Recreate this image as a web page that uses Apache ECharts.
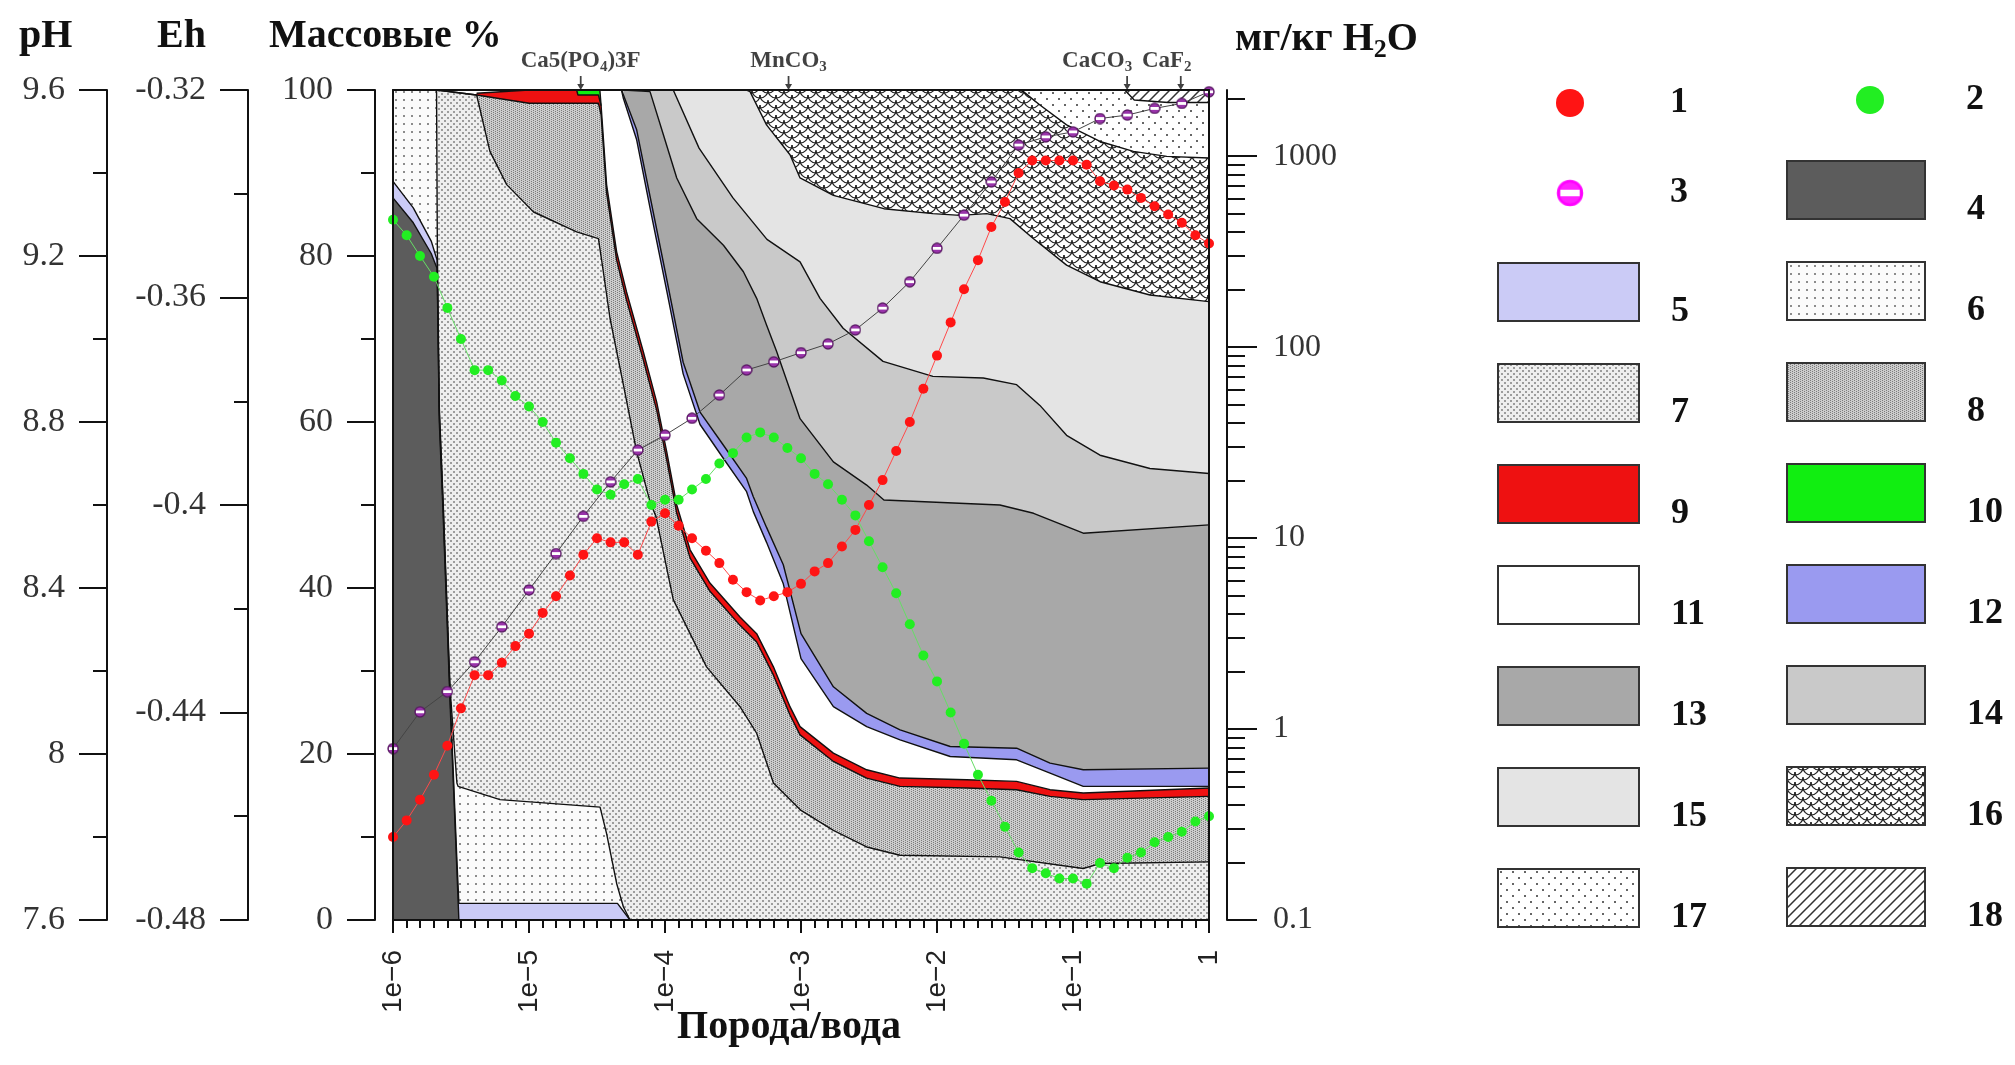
<!DOCTYPE html>
<html>
<head>
<meta charset="utf-8">
<script src="https://cdn.jsdelivr.net/npm/echarts@6/dist/echarts.min.js"></script>
<style>
html, body { margin: 0; padding: 0; background: #fff; }
#chart { width: 2015px; height: 1065px; }
</style>
</head>
<body>
<div id="chart"></div>
<script>
// rock / water ratio grid of the run (0.1 decade steps)
const ratios = [
  1e-6, 1.26e-6, 1.58e-6, 2e-6, 2.51e-6, 3.16e-6, 3.98e-6, 5.01e-6, 6.31e-6, 7.94e-6,
  1e-5, 1.26e-5, 1.58e-5, 2e-5, 2.51e-5, 3.16e-5, 3.98e-5, 5.01e-5, 6.31e-5, 7.94e-5,
  1e-4, 1.26e-4, 1.58e-4, 2e-4, 2.51e-4, 3.16e-4, 3.98e-4, 5.01e-4, 6.31e-4, 7.94e-4,
  1e-3, 1.26e-3, 1.58e-3, 2e-3, 2.51e-3, 3.16e-3, 3.98e-3, 5.01e-3, 6.31e-3, 7.94e-3,
  1e-2, 1.26e-2, 1.58e-2, 2e-2, 2.51e-2, 3.16e-2, 3.98e-2, 5.01e-2, 6.31e-2, 7.94e-2,
  0.1, 0.126, 0.158, 0.2, 0.251, 0.316, 0.398, 0.501, 0.631, 0.794,
  1
];
// 1 - pH
const phValues = [
  7.80, 7.84, 7.89, 7.95, 8.02, 8.11, 8.19, 8.19, 8.22, 8.26,
  8.29, 8.34, 8.38, 8.43, 8.48, 8.52, 8.51, 8.51, 8.48, 8.56,
  8.58, 8.55, 8.52, 8.49, 8.46, 8.42, 8.39, 8.37, 8.38, 8.39,
  8.41, 8.44, 8.46, 8.50, 8.54, 8.60, 8.66, 8.73, 8.80, 8.88,
  8.96, 9.04, 9.12, 9.19, 9.27, 9.33, 9.40, 9.43, 9.43, 9.43,
  9.43, 9.42, 9.38, 9.37, 9.36, 9.34, 9.32, 9.30, 9.28, 9.25,
  9.23
];
// 2 - Eh
const ehValues = [
  -0.345, -0.348, -0.352, -0.356, -0.362, -0.368, -0.374, -0.374, -0.376, -0.379,
  -0.381, -0.384, -0.388, -0.391, -0.394, -0.397, -0.398, -0.396, -0.395, -0.400,
  -0.399, -0.399, -0.397, -0.395, -0.392, -0.390, -0.387, -0.386, -0.387, -0.389,
  -0.391, -0.394, -0.396, -0.399, -0.402, -0.407, -0.412, -0.417, -0.423, -0.429,
  -0.434, -0.440, -0.446, -0.452, -0.457, -0.462, -0.467, -0.470, -0.471, -0.472,
  -0.472, -0.473, -0.469, -0.470, -0.468, -0.467, -0.465, -0.464, -0.463, -0.461,
  -0.460
];
// 3 - dissolved solids, mg/kg H2O (every second step)
const concRatios = [
  1e-6, 1.58e-6, 2.51e-6, 3.98e-6, 6.31e-6, 1e-5, 1.58e-5, 2.51e-5, 3.98e-5, 6.31e-5,
  1e-4, 1.58e-4, 2.51e-4, 3.98e-4, 6.31e-4, 1e-3, 1.58e-3, 2.51e-3, 3.98e-3, 6.31e-3,
  1e-2, 1.58e-2, 2.51e-2, 3.98e-2, 6.31e-2, 0.1, 0.158, 0.251, 0.398, 0.631, 1
];
const concValues = [
  0.79, 1.23, 1.57, 2.25, 3.43, 5.35, 8.3, 13.0, 19.7, 28.9,
  34.6, 42.4, 56.1, 75.9, 83.7, 93.5, 104, 123, 160, 220,
  329, 491, 733, 1143, 1262, 1340, 1574, 1641, 1778, 1888, 2173
];

// cumulative upper edge (mass %) of each solid phase 4..18
const top4 = [[1e-6, 87], [1.41e-6, 84], [1.91e-6, 80.3], [2.11e-6, 78.5], [2.19e-6, 60], [2.33e-6, 49.4], [2.63e-6, 26], [2.95e-6, 6], [3.05e-6, 0]];
const top5 = [[1e-6, 89], [1.41e-6, 85.8], [1.91e-6, 81.8], [2.11e-6, 79.5], [2.19e-6, 61], [2.33e-6, 50.4], [2.63e-6, 27], [2.95e-6, 7.2], [3.05e-6, 2], [4.47e-5, 2], [5.53e-5, 0]];
const top6 = [[1e-6, 100], [2.09e-6, 100], [2.12e-6, 80.5], [2.19e-6, 61.8], [2.33e-6, 51], [2.63e-6, 27.8], [2.95e-6, 16.5], [3.01e-6, 16.1], [6.12e-6, 14.5], [3.33e-5, 13.6], [3.72e-5, 10.4], [4.41e-5, 4.4], [4.94e-5, 1.6], [5.53e-5, 0]];
const top7 = [[2.09e-6, 100], [4.12e-6, 99.4], [5.16e-6, 92.6], [6.85e-6, 88.6], [1.08e-5, 85.3], [2.24e-5, 82.9], [3.24e-5, 82.1], [3.52e-5, 78.1], [3.94e-5, 72.5], [4.94e-5, 64.5], [6.19e-5, 56.4], [7.76e-5, 50.4], [8.59e-5, 48.6], [1.15e-4, 38.6], [2.02e-4, 30.5], [3.56e-4, 25.7], [4.72e-4, 22.5], [6.27e-4, 16.5], [1e-3, 13.2], [1.73e-3, 10.8], [3.04e-3, 8.8], [5.35e-3, 7.8], [2.9e-2, 7.6], [0.119, 6.2], [0.158, 6.8], [1, 7.0]];
const top8 = [[2.09e-6, 100], [4.12e-6, 99.4], [1e-5, 98.4], [3.24e-5, 98.4], [3.39e-5, 97], [3.72e-5, 87.6], [4.41e-5, 79.5], [5.21e-5, 74.7], [6.92e-5, 67.5], [8.69e-5, 61.4], [1.03e-4, 55.4], [1.22e-4, 49], [1.53e-4, 43.6], [2.14e-4, 39.6], [3.56e-4, 35.5], [4.72e-4, 33.5], [6.27e-4, 29.5], [8.3e-4, 24.7], [9.84e-4, 22.3], [1.73e-3, 19.1], [3.04e-3, 17.1], [5.35e-3, 16.1], [1.65e-2, 15.9], [3.85e-2, 15.7], [6.78e-2, 14.9], [0.119, 14.5], [1, 14.9]];
const top9 = [[4.12e-6, 99.6], [1e-5, 100], [2.24e-5, 100], [2.29e-5, 99.4], [3.24e-5, 99.4], [3.39e-5, 98.1], [3.72e-5, 88.6], [4.41e-5, 80.5], [5.21e-5, 75.7], [6.92e-5, 68.5], [8.69e-5, 62.4], [1.03e-4, 56.4], [1.22e-4, 50], [1.53e-4, 44.6], [2.14e-4, 40.6], [3.56e-4, 36.5], [4.72e-4, 34.5], [6.27e-4, 30.5], [8.3e-4, 25.7], [9.84e-4, 23.3], [1.73e-3, 20.1], [3.04e-3, 18.1], [5.35e-3, 17.1], [1.65e-2, 16.9], [3.85e-2, 16.7], [6.78e-2, 15.7], [0.119, 15.3], [1, 15.9]];
const top10 = [[2.24e-5, 100], [3.32e-5, 100], [3.39e-5, 98.1]];
const top11 = [[3.32e-5, 100], [4.79e-5, 100], [4.94e-5, 99], [6.19e-5, 94], [7.76e-5, 85.8], [1.03e-4, 75.8], [1.36e-4, 65.8], [1.81e-4, 59.7], [2.69e-4, 55.6], [3.98e-4, 51.6], [4.46e-4, 49.2], [5.58e-4, 45.5], [7.41e-4, 40.5], [1e-3, 31.5], [1.73e-3, 25.7], [3.04e-3, 23.3], [5.35e-3, 21.7], [1.25e-2, 19.7], [3.85e-2, 19.3], [6.78e-2, 17.7], [0.119, 16.1], [1, 16.1]];
const top12 = [[4.79e-5, 100], [4.94e-5, 100], [6.19e-5, 95.2], [7.76e-5, 87.2], [1.03e-4, 77.2], [1.36e-4, 67.2], [1.81e-4, 61.2], [2.69e-4, 57.2], [3.98e-4, 53.2], [4.46e-4, 51], [5.58e-4, 47.3], [7.41e-4, 42.8], [1e-3, 34.5], [1.73e-3, 28.1], [3.04e-3, 24.9], [5.35e-3, 22.9], [1.25e-2, 20.9], [3.85e-2, 20.7], [6.78e-2, 18.9], [0.119, 18.1], [1, 18.3]];
const top13 = [[4.94e-5, 100], [7.76e-5, 99.8], [9.73e-5, 94.6], [1.22e-4, 89.4], [1.71e-4, 84.5], [2.69e-4, 81.3], [3.77e-4, 78.1], [4.72e-4, 74.9], [5.58e-4, 71.7], [6.62e-4, 68.5], [9.84e-4, 60.4], [1.73e-3, 55.2], [3.04e-3, 52.4], [4.07e-3, 50.6], [2.9e-2, 50], [5.13e-2, 49], [0.119, 46.6], [1, 47.6]];
const top14 = [[7.6e-5, 100], [1.15e-4, 100], [1.78e-4, 93], [3.16e-4, 87], [5.62e-4, 82], [9.84e-4, 79.3], [1.38e-3, 74.9], [2.04e-3, 71.3], [4.01e-3, 67.3], [9.33e-3, 65.5], [2.19e-2, 65.3], [3.85e-2, 64.5], [5.71e-2, 62], [8.97e-2, 58.4], [0.158, 56], [0.368, 54.4], [1, 53.8]];
const top15 = [[1.13e-4, 100], [3.98e-4, 100], [4.22e-4, 99.8], [5.58e-4, 95.8], [8.3e-4, 92.2], [9.84e-4, 89.4], [1.73e-3, 87.3], [4.07e-3, 85.7], [9.33e-3, 85.1], [1.48e-2, 84.9], [2.32e-2, 85.1], [3.44e-2, 84.5], [5.1e-2, 82.1], [8.97e-2, 78.9], [0.158, 76.9], [0.368, 75.3], [1, 74.5]];
const top16 = [[3.95e-4, 100], [3.98e-2, 100], [4.32e-2, 99.8], [5.71e-2, 98.2], [8.97e-2, 95.8], [0.158, 93.8], [0.278, 92.6], [0.489, 92], [1, 91.8]];
const top17 = [[3.95e-2, 100], [0.24, 100], [0.282, 98.8], [0.501, 98.5], [1, 98.5]];
const top18 = [[0.238, 100], [1, 100]];

// minerals marked above the plot
const mineralNames = ['Ca5(PO{s|4})3F', 'MnCO{s|3}', 'CaCO{s|3}', 'CaF{s|2}'];
const mineralRatios = [2.4e-5, 8.1e-4, 0.25, 0.62];

// axis ticks
const concTicks = [0.1, 1, 10, 100, 1000];
const concMinorTicks = [0.2, 0.3, 0.4, 0.5, 0.6, 0.7, 0.8, 0.9, 2, 3, 4, 5, 6, 7, 8, 9,
  20, 30, 40, 50, 60, 70, 80, 90, 200, 300, 400, 500, 600, 700, 800, 900, 2000];
const concMin = 0.1, concMax = 2220;

// ---------- fills ----------
const SERIF = "'Liberation Serif', 'DejaVu Serif', serif";
const SANS = "'Liberation Sans', Arial, sans-serif";

function pattern(w, h, bg, draw) {
  const c = document.createElement('canvas');
  c.width = w; c.height = h;
  const ctx = c.getContext('2d');
  ctx.fillStyle = bg;
  ctx.fillRect(0, 0, w, h);
  draw(ctx);
  return {image: c, repeat: 'repeat'};
}
const sparseDots = pattern(8, 8, '#fbfbfb', ctx => { ctx.fillStyle = '#8c8c8c'; ctx.fillRect(3, 3, 2, 2); });
const denseDots = pattern(6, 6, '#eeeeee', ctx => {
  ctx.fillStyle = '#9c9c9c'; ctx.fillRect(0, 0, 2, 2); ctx.fillRect(3, 3, 2, 2);
});
const darkDots = pattern(4, 4, '#cdcdcd', ctx => {
  ctx.fillStyle = '#7c7c7c'; ctx.fillRect(1, 0, 1, 1); ctx.fillRect(1, 2, 1, 1); ctx.fillRect(3, 1, 1, 1); ctx.fillRect(3, 3, 1, 1);
});
const scales = pattern(16, 10, '#ffffff', ctx => {
  ctx.strokeStyle = '#222'; ctx.lineWidth = 1.2;
  [[0, -5], [16, -5], [8, 0], [0, 5], [16, 5], [8, 10]].forEach(([cx, cy]) => {
    ctx.beginPath(); ctx.arc(cx, cy, 8, 0, Math.PI); ctx.stroke();
  });
});
const crossDots = pattern(12, 12, '#ffffff', ctx => {
  ctx.fillStyle = '#666'; ctx.fillRect(2, 2, 2, 2); ctx.fillRect(8, 8, 2, 2);
});
const hatch = pattern(10, 10, '#ffffff', ctx => {
  ctx.strokeStyle = '#333'; ctx.lineWidth = 1.5;
  ctx.beginPath(); ctx.moveTo(0, 10); ctx.lineTo(10, 0); ctx.moveTo(-2, 2); ctx.lineTo(2, -2); ctx.moveTo(8, 12); ctx.lineTo(12, 8); ctx.stroke();
});
const fills = {
  4: '#5c5c5c', 5: '#cbcbf6', 6: sparseDots, 7: denseDots, 8: darkDots, 9: '#ee1111',
  10: '#11ee11', 11: '#ffffff', 12: '#9a9af0', 13: '#a8a8a8', 14: '#c9c9c9', 15: '#e4e4e4',
  16: scales, 17: crossDots, 18: hatch
};

function ringIcon(fill, edge) {
  const c = document.createElement('canvas');
  c.width = 26; c.height = 26;
  const ctx = c.getContext('2d');
  ctx.beginPath(); ctx.arc(13, 13, 11, 0, Math.PI * 2);
  ctx.fillStyle = fill; ctx.fill();
  ctx.lineWidth = 2.5; ctx.strokeStyle = edge; ctx.stroke();
  ctx.save(); ctx.clip();
  ctx.fillStyle = '#ffffff'; ctx.fillRect(4, 10, 18, 6);
  ctx.restore();
  return 'image://' + c.toDataURL();
}
const concSymbol = ringIcon('#9933aa', '#55185f');
const concLegendIcon = ringIcon('#ff22ff', '#ff00ff');

// ---------- series ----------
const layers = [
  [18, top18], [17, top17], [16, top16], [15, top15], [14, top14], [13, top13], [12, top12],
  [11, top11], [10, top10], [9, top9], [8, top8], [7, top7], [6, top6], [5, top5], [4, top4]
];
const series = layers.map(([n, d]) => ({
  name: String(n), type: 'line', data: d, xAxisIndex: 0, yAxisIndex: 0,
  symbol: 'none', showSymbol: false, silent: true, z: 2,
  itemStyle: {color: '#444'},
  lineStyle: {color: '#111', width: 1.4},
  areaStyle: {color: fills[n], opacity: 1}
}));
series.push({
  name: '3', type: 'line', yAxisIndex: 3, z: 5,
  data: concRatios.map((r, i) => [r, concValues[i]]),
  symbol: concSymbol, symbolSize: 12,
  itemStyle: {color: '#9933aa'}, lineStyle: {color: '#444', width: 1}
});
series.push({
  name: '1', type: 'line', yAxisIndex: 1, z: 6,
  data: ratios.map((r, i) => [r, phValues[i]]),
  symbol: 'circle', symbolSize: 10,
  itemStyle: {color: '#ff1414'}, lineStyle: {color: '#ff4a4a', width: 1}
});
series.push({
  name: '2', type: 'line', yAxisIndex: 2, z: 6,
  data: ratios.map((r, i) => [r, ehValues[i]]),
  symbol: 'circle', symbolSize: 10,
  itemStyle: {color: '#22ee22'}, lineStyle: {color: '#66dd66', width: 1}
});
const mineralShift = [0, 0, -30, -14];
series.push({
  name: 'minerals', type: 'scatter', yAxisIndex: 0, z: 7, silent: true,
  data: mineralRatios.map((r, i) => ({
    value: [r, 100],
    label: {offset: [mineralShift[i], 0]}
  })),
  symbol: 'path://M3,0 L5,0 L5,9 L8,9 L4,16 L0,9 L3,9 Z',
  symbolSize: [7, 14], symbolOffset: [0, -7],
  itemStyle: {color: '#111'},
  label: {
    show: true, position: 'top', distance: 1,
    formatter: p => mineralNames[p.dataIndex],
    fontFamily: SERIF, fontWeight: 'bold', fontSize: 23, color: '#111',
    rich: {s: {fontFamily: SERIF, fontWeight: 'bold', fontSize: 15, padding: [12, 0, 0, 0], color: '#111'}}
  }
});

// ---------- axes ----------
const black = {color: '#111', width: 2};
function leftAxis(min, max, interval, offset) {
  return {
    type: 'value', min, max, interval, position: 'left', offset,
    axisLine: {show: true, onZero: false, lineStyle: black},
    axisTick: {show: true, length: 28, lineStyle: black},
    minorTick: {show: true, splitNumber: 2, length: 14, lineStyle: black},
    axisLabel: {margin: 42, fontFamily: SERIF, fontSize: 34, color: '#333'},
    splitLine: {show: false}, minorSplitLine: {show: false}
  };
}
const hiddenLine = {show: false, onZero: false};
const yAxis = [
  leftAxis(0, 100, 20, 18),
  leftAxis(7.6, 9.6, 0.4, 286),
  leftAxis(-0.48, -0.32, 0.04, 145),
  {type: 'log', logBase: 10, min: concMin, max: concMax, show: false},
  {
    type: 'value', min: Math.log10(concMin), max: Math.log10(concMax), position: 'right', offset: 18,
    axisLine: {show: true, onZero: false, lineStyle: black},
    axisTick: {show: true, length: 30, lineStyle: black, customValues: concTicks.map(Math.log10)},
    axisLabel: {
      show: true, margin: 46, fontFamily: SERIF, fontSize: 32, color: '#333',
      customValues: concTicks.map(Math.log10),
      formatter: v => String(+Math.pow(10, v).toPrecision(2))
    },
    splitLine: {show: false}
  },
  {
    type: 'value', min: Math.log10(concMin), max: Math.log10(concMax), position: 'right', offset: 18,
    axisLine: hiddenLine,
    axisTick: {show: true, length: 18, lineStyle: black, customValues: concMinorTicks.map(Math.log10)},
    axisLabel: {show: false}, splitLine: {show: false}
  },
  {type: 'value', position: 'right', offset: 0, z: 10, axisLine: {show: true, onZero: false, lineStyle: black}, axisTick: {show: false}, axisLabel: {show: false}, splitLine: {show: false}},
  {type: 'value', position: 'left', offset: 0, z: 10, axisLine: {show: true, onZero: false, lineStyle: black}, axisTick: {show: false}, axisLabel: {show: false}, splitLine: {show: false}}
];
const xAxis = [
  {
    type: 'log', logBase: 10, min: 1e-6, max: 1, position: 'bottom', z: 10,
    axisLine: {show: true, onZero: false, lineStyle: black},
    axisTick: {show: true, length: 13, lineStyle: {color: '#111', width: 2}},
    axisLabel: {
      rotate: 90, margin: 30, fontFamily: SANS, fontSize: 28, color: '#222',
      formatter: v => { const e = Math.round(Math.log10(v)); return e === 0 ? '1' : '1e\u2212' + (-e); }
    },
    splitLine: {show: false}
  },
  {
    type: 'value', min: -6, max: 0, interval: 0.1, position: 'bottom',
    axisLine: hiddenLine,
    axisTick: {show: true, length: 8, lineStyle: {color: '#111', width: 2}},
    axisLabel: {show: false}, splitLine: {show: false}
  },
  {type: 'value', min: 0, max: 1, position: 'top', z: 10, axisLine: {show: true, onZero: false, lineStyle: black}, axisTick: {show: false}, axisLabel: {show: false}, splitLine: {show: false}}
];

// ---------- legend ----------
const numStyle = {fontFamily: SERIF, fontWeight: 'bold', fontSize: 36, color: '#111', lineHeight: 40};
const boxStyle = n => ({icon: 'rect', itemStyle: {color: fills[n], borderColor: '#333', borderWidth: 2}});
const legend = [
  {
    data: [{name: '1', icon: 'circle', itemStyle: {color: '#ff1414'}}, {name: '3', icon: concLegendIcon}],
    orient: 'vertical', left: 1556, top: 83, padding: 0, selectedMode: false,
    itemWidth: 28, itemHeight: 28, itemGap: 50,
    textStyle: Object.assign({}, numStyle, {padding: [0, 0, 0, 81]})
  },
  {
    data: [{name: '2', icon: 'circle', itemStyle: {color: '#22ee22'}}],
    orient: 'vertical', left: 1856, top: 80, padding: 0, selectedMode: false,
    itemWidth: 28, itemHeight: 28,
    textStyle: Object.assign({}, numStyle, {padding: [0, 0, 0, 77]})
  },
  {
    data: [5, 7, 9, 11, 13, 15, 17].map(n => Object.assign({name: String(n)}, boxStyle(n))),
    orient: 'vertical', left: 1497, top: 252, padding: 0, selectedMode: false,
    itemWidth: 141, itemHeight: 58, itemGap: 21,
    formatter: name => '\n' + name,
    textStyle: Object.assign({}, numStyle, {padding: [0, 0, 0, 27]})
  },
  {
    data: [4, 6, 8, 10, 12, 14, 16, 18].map(n => Object.assign({name: String(n)}, boxStyle(n))),
    orient: 'vertical', left: 1786, top: 150, padding: 0, selectedMode: false,
    itemWidth: 138, itemHeight: 58, itemGap: 21,
    formatter: name => '\n' + name,
    textStyle: Object.assign({}, numStyle, {padding: [0, 0, 0, 37]})
  }
];

const headStyle = {fontFamily: SERIF, fontWeight: 'bold', fontSize: 40, color: '#111'};
const title = [
  {text: 'pH', left: 14, top: 12, textStyle: headStyle},
  {text: 'Eh', left: 152, top: 12, textStyle: headStyle},
  {text: 'Массовые %', left: 264, top: 12, textStyle: headStyle},
  {
    text: '{a|мг/кг H}{b|2}{a|O}', left: 1230, top: 12,
    textStyle: {rich: {a: headStyle, b: Object.assign({}, headStyle, {fontSize: 26, padding: [20, 0, 0, 0]})}}
  },
  {text: 'Порода/вода', left: 784, textAlign: 'center', top: 1003, textStyle: headStyle}
];

const chart = echarts.init(document.getElementById('chart'));
chart.setOption({
  animation: false,
  backgroundColor: '#ffffff',
  title, legend,
  grid: {left: 393, right: 806, top: 90, bottom: 145},
  xAxis, yAxis, series
});
</script>
</body>
</html>
